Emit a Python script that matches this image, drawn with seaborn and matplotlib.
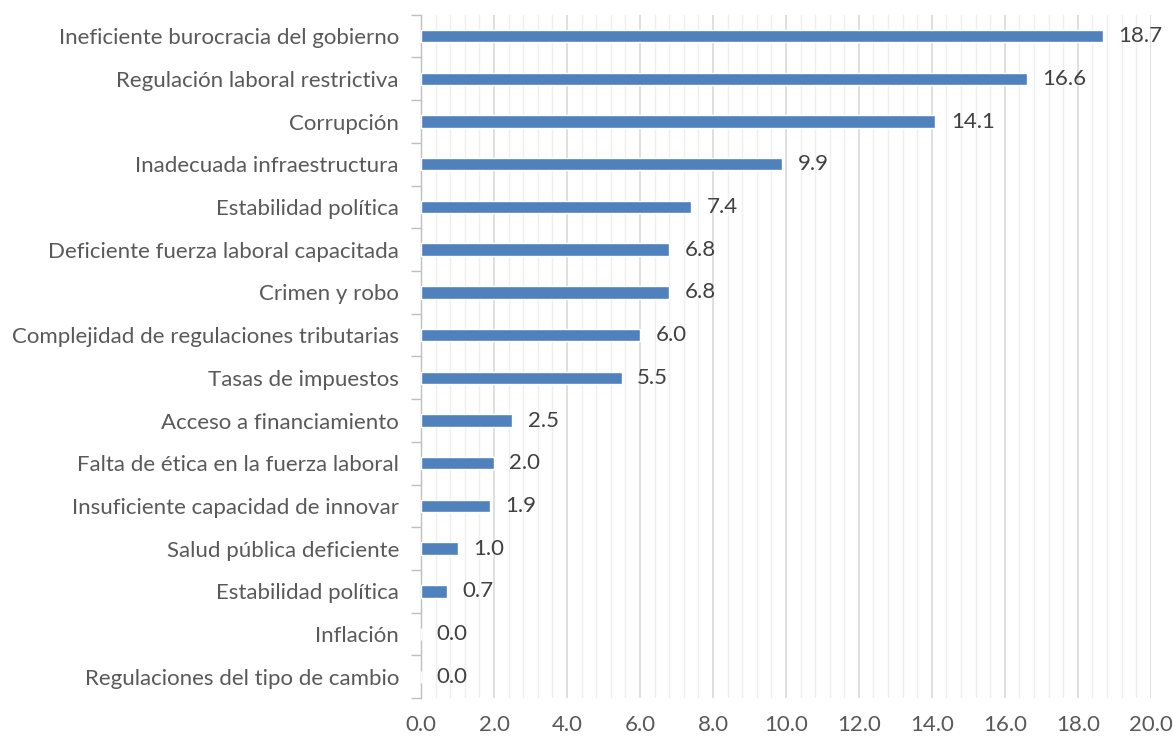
import matplotlib
matplotlib.use("Agg")
import matplotlib.pyplot as plt
import seaborn as sns
import pandas as pd
import numpy as np
from matplotlib.ticker import MultipleLocator, FixedLocator

categories = [
    "Ineficiente burocracia del gobierno",
    "Regulación laboral restrictiva",
    "Corrupción",
    "Inadecuada infraestructura",
    "Estabilidad política",
    "Deficiente fuerza laboral capacitada",
    "Crimen y robo",
    "Complejidad de regulaciones tributarias",
    "Tasas de impuestos",
    "Acceso a financiamiento",
    "Falta de ética en la fuerza laboral",
    "Insuficiente capacidad de innovar",
    "Salud pública deficiente",
    "Estabilidad política",
    "Inflación",
    "Regulaciones del tipo de cambio",
]
values = [18.7, 16.6, 14.1, 9.9, 7.4, 6.8, 6.8, 6.0, 5.5, 2.5, 2.0, 1.9, 1.0, 0.7, 0.0, 0.0]
x_ticks = [0, 2, 4, 6, 8, 10, 12, 14, 16, 18, 20]

sns.set_theme(style="white")
plt.rcParams['font.family'] = ['Lato', 'DejaVu Sans']

text_color = "#595959"
fs = 16
n = len(categories)
keys = [f"k{i}" for i in range(n)]
df = pd.DataFrame({"key": keys, "value": values})

fig, ax = plt.subplots(figsize=(11.73, 7.38), dpi=100)
fig.subplots_adjust(left=0.359, right=0.981, top=0.980, bottom=0.054)

sns.barplot(data=df, x="value", y="key", order=keys, color="#4F81BD",
            saturation=1, width=0.29, orient="h", ax=ax, zorder=3)

ax.set_xlim(0, 20)
ax.set_ylim(n - 0.5, -0.5)
ax.set_xticks(x_ticks)
ax.set_xticklabels([f"{t:.1f}" for t in x_ticks], fontsize=fs, color=text_color)
ax.xaxis.set_minor_locator(MultipleLocator(0.4))
ax.grid(axis="x", which="major", color="#D9D9D9", linewidth=1.2, zorder=0)
ax.grid(axis="x", which="minor", color="#EFEFEF", linewidth=1.0, zorder=0)
ax.set_axisbelow(True)

ax.set_yticks(range(n))
ax.set_yticklabels(categories, fontsize=fs, color=text_color)
ax.yaxis.set_minor_locator(FixedLocator(np.arange(-0.5, n, 1.0)))
ax.tick_params(axis="y", which="major", length=0, pad=16)
ax.tick_params(axis="y", which="minor", length=7, color="#BFBFBF", width=1, left=True)
ax.tick_params(axis="x", which="both", length=0, pad=12)

for s in ["top", "right", "bottom"]:
    ax.spines[s].set_visible(False)
ax.spines["left"].set_color("#BFBFBF")
ax.spines["left"].set_linewidth(1)

ax.set_xlabel("")
ax.set_ylabel("")

for c in ax.containers:
    ax.bar_label(c, fmt="%.1f", padding=11, fontsize=fs, color="#404040")

fig.savefig("out.png", dpi=100)
